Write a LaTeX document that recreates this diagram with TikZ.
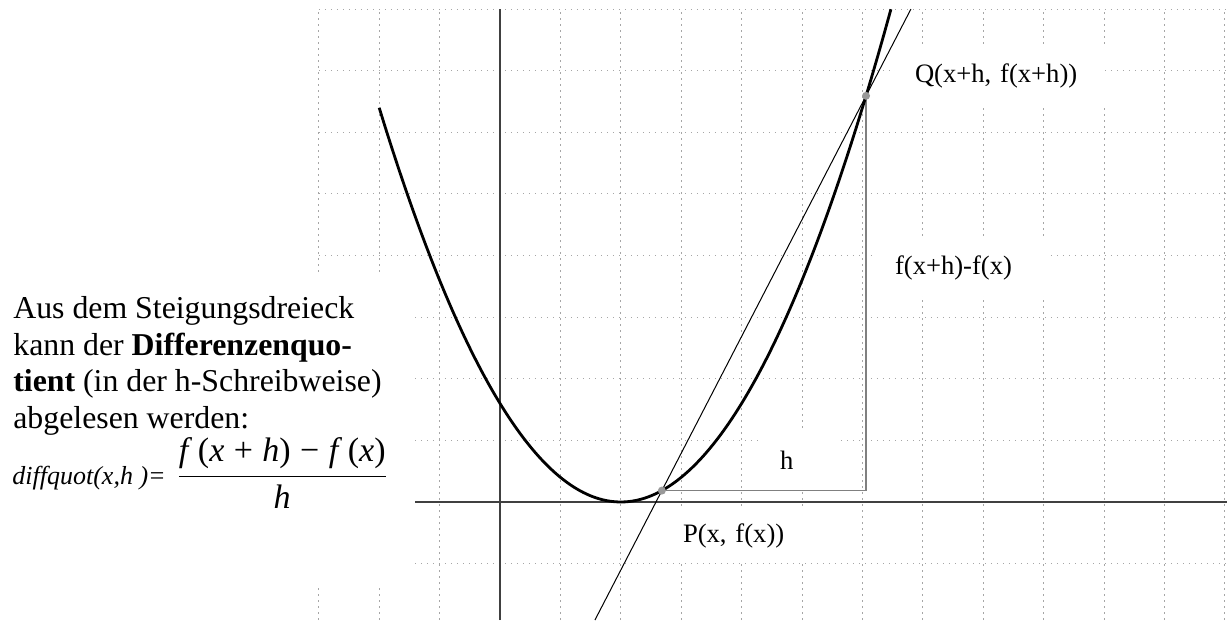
\documentclass[tikz,border=0pt]{standalone}
\usepackage{fontspec}
\setmainfont{Liberation Serif}
\usepackage{amsmath}
\usetikzlibrary{positioning,calc}

\begin{document}
\begin{tikzpicture}[x=30.2pt, y=30.8pt,
  gridline/.style={gray!70, line width=0.5pt, dash pattern=on 0.8pt off 2.2pt},
  axis/.style={black!75, line width=0.8pt},
  triline/.style={gray, line width=0.7pt},
  lbl/.style={fill=white, align=left, inner xsep=10pt, inner ysep=0pt,
    minimum height=28pt, font=\fontsize{13.3}{15}\selectfont}]
  \useasboundingbox (-8.278,-1.916) rectangle (12.036,8.149);
  % grid
  \foreach \gx in {-3,...,12}
    \draw[gridline] (\gx,-1.916) -- (\gx,8);
  \foreach \gy in {-1,...,8}
    \draw[gridline] (-3,\gy) -- (12.036,\gy);
  \fill[white] (-3.1,-1.38) rectangle (-1.407,3.685);
  % labels
  \node[lbl, text width=85pt] (qlbl) at (8.278,6.916) {Q(x+h, f(x+h))};
  \node[lbl, text width=66.5pt] (dlbl) at (7.641,3.791) {f(x+h)-f(x)};
  \node[lbl, text width=18.5pt] (hlbl) at (4.942,0.682) {h};
  \node[lbl, text width=57.5pt] (plbl) at (3.982,-0.544) {P(x, f(x))};
  % axes
  \coordinate (xa) at (-1.407,0);
  \coordinate (xe) at (12.036,0);
  \coordinate (ya) at (0,-1.916);
  \coordinate (ye) at (0,8);
  \draw[axis] (xa) -- (xe);
  \draw[axis] (ya) -- (ye);
  % secant triangle
  \coordinate (P) at (2.68,0.185);
  \coordinate (Q) at (6.06,6.593);
  \draw[triline] (P) -- (P -| Q) -- (Q);
  \draw[line width=1.4pt, domain=-2:6.472, samples=80, smooth]
    plot (\x,{0.4*(\x-2)^2});
  \draw[line width=0.5pt] ($(P)!-0.328!(Q)$) -- ($(P)!1.2196!(Q)$);
  \fill[gray!80] (P) circle (2pt) (Q) circle (2pt);
  % text
  \node[anchor=north west, align=left, inner sep=0pt,
    font=\fontsize{15.9}{18.35}\selectfont] (txt) at (-8.063,3.344)
    {Aus dem Steigungsdreieck\\kann der \textbf{Differenzenquo-}\\
     \textbf{tient} (in der h-Schreibweise)\\abgelesen werden:};
  \node[anchor=base west, inner sep=0pt,
    font=\fontsize{13}{15}\selectfont\itshape] (dq) at (-8.079,0.276)
    {diffquot(x,h )=};
  \node[base right=5pt of dq, inner sep=0pt,
    font=\fontsize{17}{20}\selectfont] (quot)
    {\(\dfrac{\text{\textit{f}\,(\textit{x}\;+\;\textit{h})\;−\;\textit{f}\,(\textit{x})}}
      {\text{\textit{h}}}\)};
\end{tikzpicture}
\end{document}
